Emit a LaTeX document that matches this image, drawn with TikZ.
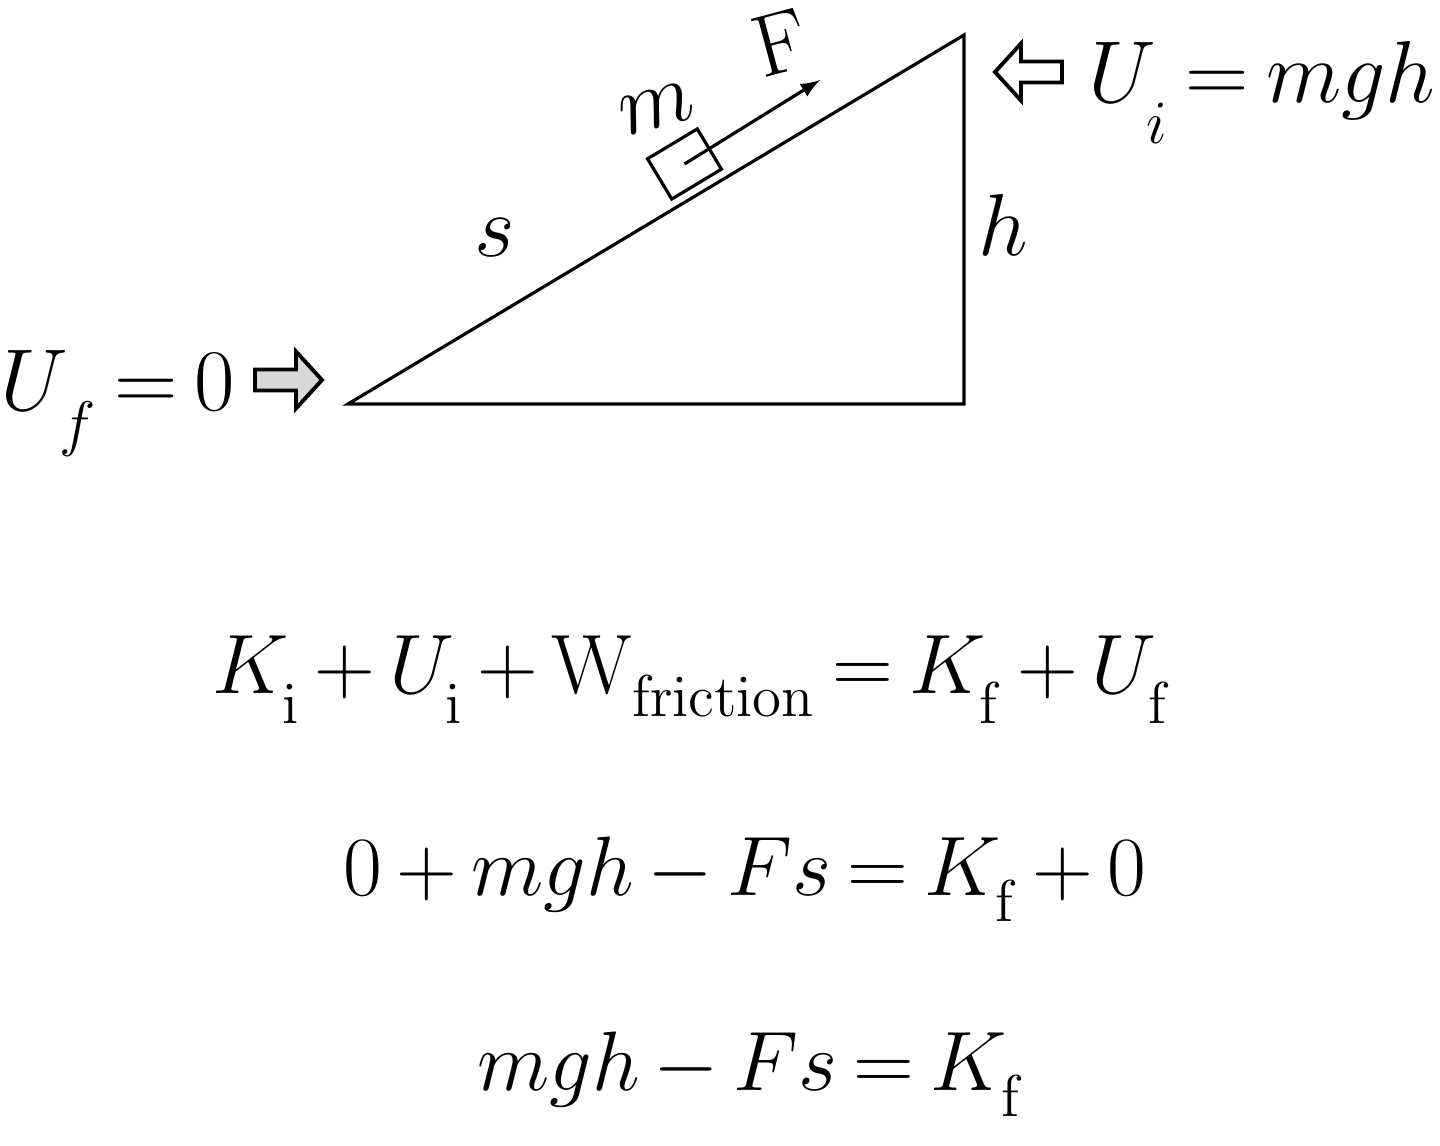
\documentclass[tikz,border=0pt]{standalone}
\usepackage{fix-cm}
\usepackage{amsmath}
\usepackage{tikz}
\usetikzlibrary{arrows, calc, positioning}

\newcommand{\tightmath}{\thickmuskip=3.5mu\relax\medmuskip=3mu\relax}
\newcommand{\lowsub}[2][5pt]{_{\lower#1\hbox{$\scriptstyle #2$}}}

\tikzset{
  lbl/.style={inner sep=0pt, font=\fontsize{25}{30}\selectfont\tightmath},
  eqn/.style={inner sep=0pt, font=\fontsize{24}{29}\selectfont\tightmath},
  hollow/.pic={\draw[line width=1.1pt, pic actions] (0,-0.105) -- (0.41,-0.105) -- (0.41,-0.285) -- (0.67,0) -- (0.41,0.285) -- (0.41,0.105) -- (0,0.105) -- cycle;}
}

\begin{document}
\begin{tikzpicture}
      \useasboundingbox (0,0) rectangle (14.4,-11.46);

      % incline
      \coordinate (base) at (3.48,-4.04);
      \coordinate (corner) at (9.64,-4.04);
      \coordinate (top) at (9.64,-0.35);
      \draw[line width=0.9pt] (base) -- (corner) -- (top) -- cycle;

      % block and force
      \node[draw, line width=0.9pt, rotate=31, minimum width=0.58cm, minimum height=0.47cm, inner sep=0pt] (blk) at (6.845,-1.64) {};
      \coordinate (ftip) at (8.20,-0.80);
      \draw[-latex, line width=0.9pt] (blk.center) -- (ftip);

      \node[lbl, rotate=15] (mlab) at (6.57,-1.08) {$m$};
      \node[lbl, rotate=15] (flab) at (7.80,-0.43) {F};
      \node[lbl] (slab) at (4.95,-2.38) {$s$};
      \node[lbl] (hlab) at (10.03,-2.25) {$h$};

      % potential energy markers
      \pic[fill=gray!30] at (2.55,-3.80) {hollow};
      \node[lbl, anchor=base west] (uf) at (0.0,-4.10) {$U\lowsub[6pt]{f} = 0$};
      \pic[fill=white, rotate=180] at (10.62,-0.72) {hollow};
      \node[lbl, anchor=base east] (ui) at (14.36,-1.02) {$U\lowsub[8pt]{i} = mgh$};

      % energy balance
      \node[eqn, anchor=base] (eq1) at (6.92,-6.93) {$K\lowsub{\mathrm{i}} + U\lowsub{\mathrm{i}} + \mathrm{W}\lowsub[3pt]{\mathrm{friction}} = K\lowsub{\mathrm{f}} + U\lowsub{\mathrm{f}}$};
      \node[eqn, anchor=base] (eq2) at (7.45,-8.95) {$0 + mgh - Fs = K\lowsub[4pt]{\mathrm{f}} + 0$};
      \node[eqn, anchor=base] (eq3) at (7.51,-10.90) {$mgh - Fs = K\lowsub[4pt]{\mathrm{f}}$};

    \end{tikzpicture}
\end{document}
